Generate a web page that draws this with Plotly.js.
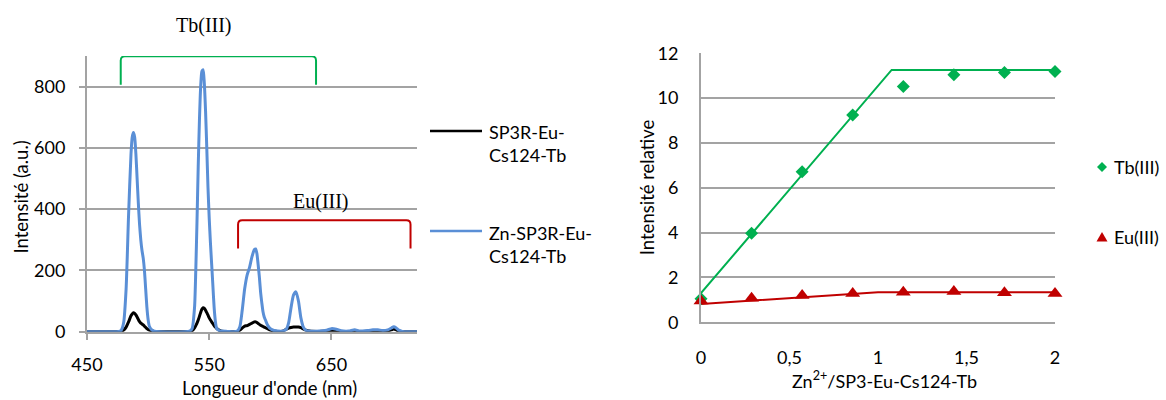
<!DOCTYPE html>
<html>
<head>
<meta charset="utf-8">
<script src="https://cdn.plot.ly/plotly-3.0.1.min.js"></script>
<style>html,body{margin:0;padding:0;background:#fff;}#chart{width:1166px;height:400px;}</style>
</head>
<body>
<div id="chart"></div>
<script>
// ---- Left chart: emission spectra ----
const wavelength = [450,470,476,478,480,482,484,486,487,488,489,490,491,492,493,494,495,496,497,498,499,500,501,503,505,510,
  530,534,536,538,539,540,541,542,543,544,545,546,547,548,549,550,551,552,553,554,555,556,558,560,565,
  570,573,575,577,579,581,583,585,587,588,589,590,591,592,593,594,595,596,597,598,600,603,606,
  610,613,615,617,619,621,623,625,627,629,632,640,646,650,654,658,664,669,673,680,684,688,692,696,699,701,703,705,708,715,720];
const znSpectrum = [0,0,1,5,30,140,380,580,635,650,635,580,500,420,350,300,265,240,200,140,80,40,18,6,2,0,
  0,2,10,80,200,360,540,690,800,850,855,810,720,600,470,370,290,220,150,80,35,12,4,2,1,
  0,2,15,70,140,185,210,245,268,270,255,220,180,130,95,65,48,38,28,20,10,4,2,
  2,8,30,80,120,130,100,45,15,5,2,2,5,10,8,3,2,6,2,4,6,6,4,6,12,16,12,5,1,0,0];
const refSpectrum = [0,0,0,1,5,15,32,52,58,62,60,55,48,40,33,28,25,22,18,14,10,7,5,3,1,0,
  0,1,3,12,20,28,38,50,63,73,78,76,70,62,54,45,38,32,26,20,15,11,5,2,0,
  0,1,5,12,18,20,24,28,32,32,30,27,24,21,19,17,15,13,11,9,5,2,1,
  2,8,12,14,15,15,15,13,9,5,2,1,2,3,2,1,0,2,1,1,3,4,3,3,6,9,6,2,0,0,0];
const seriesNames = ["SP3R-Eu-<br>Cs124-Tb", "Zn-SP3R-Eu-<br>Cs124-Tb"];
const leftTicks = [450, 550, 650];

// ---- Right chart: relative intensity vs Zn2+ ratio ----
const znRatio = [0, 0.2857, 0.5714, 0.8571, 1.1429, 1.4286, 1.7143, 2];
const tbRelative = [1.05, 3.97, 6.72, 9.25, 10.52, 11.04, 11.14, 11.19];
const euRelative = [0.95, 1.07, 1.19, 1.29, 1.34, 1.37, 1.32, 1.29];
const tbFitX = [0, 1.077, 2];
const tbFitY = [1.3, 11.26, 11.26];
const euFitX = [0, 1.0, 2.04];
const euFitY = [0.82, 1.34, 1.34];
const rightNames = ["Tb(III)", "Eu(III)"];

const W = 1166, H = 400;
const px = v => v / W;
const py = v => (H - v) / H;

const FONT = "Lato, 'Open Sans', sans-serif";
const TXT = '#000';
const GRID = '#a3a3a3';
const BLUE = '#5a8fd6';
const GREEN = '#00b050';
const RED = '#c00000';

const traces = [
  {x: wavelength, y: refSpectrum, name: seriesNames[0], type: 'scatter', mode: 'lines',
   line: {color: '#000', width: 3, shape: 'spline', smoothing: 0.6}, xaxis: 'x', yaxis: 'y', showlegend: false},
  {x: wavelength, y: znSpectrum, name: seriesNames[1], type: 'scatter', mode: 'lines',
   line: {color: BLUE, width: 3, shape: 'spline', smoothing: 0.6}, xaxis: 'x', yaxis: 'y', showlegend: false},
  {x: tbFitX, y: tbFitY, type: 'scatter', mode: 'lines', line: {color: GREEN, width: 2},
   xaxis: 'x2', yaxis: 'y2', showlegend: false, hoverinfo: 'skip'},
  {x: euFitX, y: euFitY, type: 'scatter', mode: 'lines', line: {color: RED, width: 2},
   xaxis: 'x2', yaxis: 'y2', showlegend: false, hoverinfo: 'skip', cliponaxis: false},
  {x: znRatio, y: tbRelative, name: rightNames[0], type: 'scatter', mode: 'markers',
   marker: {symbol: 'diamond', size: 10, color: GREEN}, xaxis: 'x2', yaxis: 'y2', showlegend: false, cliponaxis: false},
  {x: znRatio, y: euRelative, name: rightNames[1], type: 'scatter', mode: 'markers',
   marker: {symbol: 'triangle-up', size: 13, color: RED}, xaxis: 'x2', yaxis: 'y2', showlegend: false, cliponaxis: false}
];

const tickFont = {family: FONT, size: 18, color: TXT};

const layout = {
  width: W, height: H,
  margin: {l: 0, r: 0, t: 0, b: 0},
  paper_bgcolor: '#fff', plot_bgcolor: '#fff',
  font: {family: FONT, color: TXT},
  showlegend: false,
  xaxis: {domain: [px(87), px(417)], range: [450, 720], tickvals: leftTicks, ticktext: leftTicks.map(String),
    showgrid: false, zeroline: false, showline: true, linecolor: GRID, linewidth: 2,
    ticks: 'outside', ticklen: 6, tickwidth: 2, tickcolor: GRID, tickfont: tickFont, ticklabelstandoff: 10},
  yaxis: {domain: [py(331.7), py(56)], range: [0, 900], tickvals: [0, 200, 400, 600, 800],
    showgrid: true, gridcolor: GRID, gridwidth: 2, zeroline: false, showline: true, linecolor: GRID, linewidth: 2,
    ticks: 'outside', ticklen: 6, tickwidth: 2, tickcolor: GRID, tickfont: tickFont, ticklabelstandoff: 10},
  xaxis2: {domain: [px(701), px(1055)], range: [0, 2], tickvals: [0, 0.5, 1, 1.5, 2], ticktext: ['0', '0,5', '1', '1,5', '2'],
    anchor: 'y2', showgrid: false, zeroline: false, showline: true, linecolor: GRID, linewidth: 2,
    ticks: '', tickfont: tickFont, ticklabelstandoff: 18},
  yaxis2: {domain: [py(322.3), py(53.3)], range: [0, 12], tickvals: [0, 2, 4, 6, 8, 10, 12], anchor: 'x2',
    showgrid: true, gridcolor: GRID, gridwidth: 2, zeroline: false, showline: true, linecolor: GRID, linewidth: 2,
    ticks: '', tickfont: tickFont, ticklabelstandoff: 17},
  annotations: [
    {text: 'Longueur d\'onde (nm)', xref: 'paper', yref: 'paper', x: px(269), y: py(388), showarrow: false,
     xanchor: 'center', yanchor: 'middle', font: {family: FONT, size: 18.5, color: TXT}},
    {text: 'Intensité (a.u.)', xref: 'paper', yref: 'paper', x: px(20), y: py(197.5), showarrow: false, textangle: -90,
     xanchor: 'center', yanchor: 'middle', font: {family: FONT, size: 18.5, color: TXT}},
    {text: 'Zn<sup>2+</sup>/SP3-Eu-Cs124-Tb', xref: 'paper', yref: 'paper', x: px(884), y: py(380), showarrow: false,
     xanchor: 'center', yanchor: 'middle', font: {family: FONT, size: 18, color: TXT}},
    {text: 'Intensité relative', xref: 'paper', yref: 'paper', x: px(646.7), y: py(187.5), showarrow: false, textangle: -90,
     xanchor: 'center', yanchor: 'middle', font: {family: FONT, size: 18.5, color: TXT}},
    {text: 'Tb(III)', xref: 'x', yref: 'paper', x: 545.7, y: py(25), showarrow: false,
     xanchor: 'center', yanchor: 'middle', font: {family: "'Liberation Serif', serif", size: 20, color: TXT}},
    {text: 'Eu(III)', xref: 'x', yref: 'y', x: 641.6, y: 426, showarrow: false,
     xanchor: 'center', yanchor: 'middle', font: {family: "'Liberation Serif', serif", size: 20, color: TXT}},
    {text: seriesNames[0], xref: 'paper', yref: 'paper', x: px(487), y: py(143.5), showarrow: false, align: 'left',
     xanchor: 'left', yanchor: 'middle', font: {family: FONT, size: 18, color: TXT}},
    {text: seriesNames[1], xref: 'paper', yref: 'paper', x: px(487), y: py(244), showarrow: false, align: 'left',
     xanchor: 'left', yanchor: 'middle', font: {family: FONT, size: 18, color: TXT}},
    {text: rightNames[0], xref: 'paper', yref: 'paper', x: px(1112), y: py(167), showarrow: false,
     xanchor: 'left', yanchor: 'middle', font: {family: FONT, size: 18, color: TXT}},
    {text: rightNames[1], xref: 'paper', yref: 'paper', x: px(1112), y: py(237), showarrow: false,
     xanchor: 'left', yanchor: 'middle', font: {family: FONT, size: 18, color: TXT}}
  ],
  shapes: [
    // Tb(III) bracket
    {type: 'path', xref: 'x', yref: 'y', path: 'M477.6,806 L477.6,885 Q477.6,899 481,899 L634,899 Q637.4,899 637.4,885 L637.4,806',
     line: {color: GREEN, width: 2}},
    // Eu(III) bracket
    {type: 'path', xref: 'x', yref: 'y', path: 'M573.6,272 L573.6,350 Q573.6,364 577,364 L711.3,364 Q714.7,364 714.7,350 L714.7,272',
     line: {color: RED, width: 2}},
    // left legend keys
    {type: 'line', xref: 'paper', yref: 'paper', x0: px(430), x1: px(482), y0: py(131), y1: py(131), line: {color: '#000', width: 2.5}},
    {type: 'line', xref: 'paper', yref: 'paper', x0: px(430), x1: px(482), y0: py(231), y1: py(231), line: {color: BLUE, width: 2.5}},
    // right legend keys
    {type: 'path', xref: 'paper', yref: 'paper', xsizemode: 'pixel', ysizemode: 'pixel', xanchor: px(1102), yanchor: py(167),
     path: 'M0,5 L5,0 L0,-5 L-5,0 Z', fillcolor: GREEN, line: {width: 0}},
    {type: 'path', xref: 'paper', yref: 'paper', xsizemode: 'pixel', ysizemode: 'pixel', xanchor: px(1102), yanchor: py(237),
     path: 'M-5.5,-4.5 L5.5,-4.5 L0,5 Z', fillcolor: RED, line: {width: 0}}
  ]
};

Plotly.newPlot('chart', traces, layout, {displayModeBar: false, staticPlot: true});
</script>
</body>
</html>
